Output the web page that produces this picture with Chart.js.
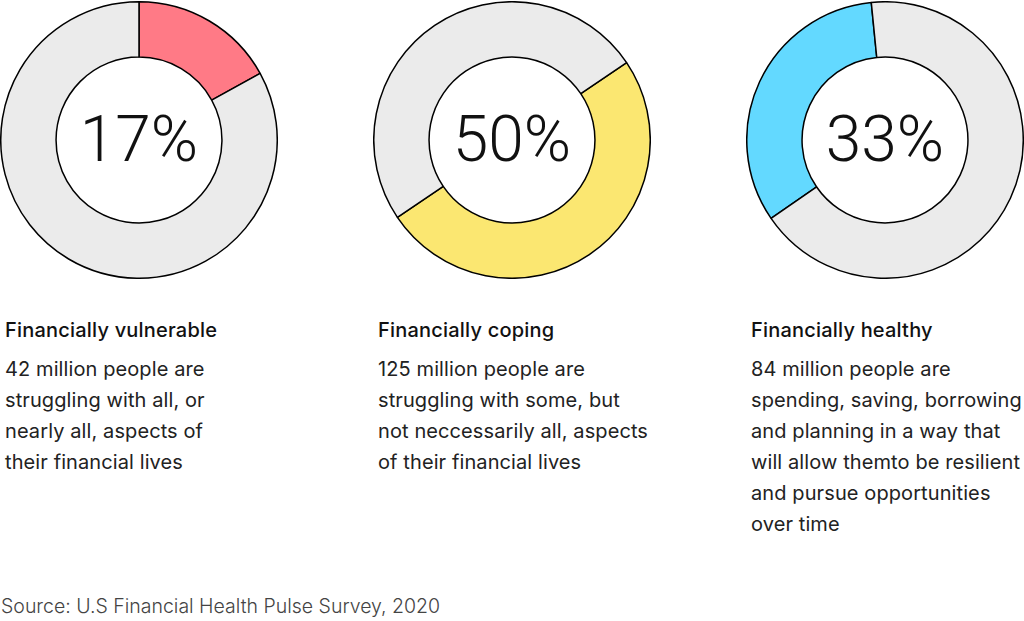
<!DOCTYPE html>
<html>
<head>
<meta charset="utf-8">
<script src="https://cdn.jsdelivr.net/npm/chart.js@4/dist/chart.umd.min.js"></script>
<style>
  html, body { margin: 0; padding: 0; background: #fff; }
  body { width: 1024px; height: 621px; position: relative; overflow: hidden; font-family: Inter, Roboto, "Noto Sans", sans-serif; }
  .donut { position: absolute; top: 1px; width: 278px; height: 278px; }
  .block { position: absolute; top: 316px; width: 300px; color: #1a1a1a; }
  .block h3 { margin: 0 0 10px 0; font-size: 20px; font-weight: 500; line-height: 28px; color: #111; letter-spacing: 0.2px; }
  .block p { margin: 0; font-size: 20px; font-weight: 400; line-height: 31px; color: #222; letter-spacing: 0.1px; }
  .source { position: absolute; left: 1px; top: 594px; font-size: 19.5px; font-weight: 300; color: #444; }
</style>
</head>
<body>
<canvas id="c0" class="donut" width="278" height="278" style="left:0px"></canvas>
<canvas id="c1" class="donut" width="278" height="278" style="left:373px"></canvas>
<canvas id="c2" class="donut" width="278" height="278" style="left:746px"></canvas>

<div class="block" style="left:5px"><h3 id="t0"></h3><p id="d0"></p></div>
<div class="block" style="left:378px"><h3 id="t1"></h3><p id="d1"></p></div>
<div class="block" style="left:751px"><h3 id="t2"></h3><p id="d2"></p></div>
<div class="source" id="source"></div>

<script>
// data
const groups = ['Financially vulnerable', 'Financially coping', 'Financially healthy'];
const shares = [17, 50, 33];
const descriptions = [
  ['42 million people are', 'struggling with all, or', 'nearly all, aspects of', 'their financial lives'],
  ['125 million people are', 'struggling with some, but', 'not neccessarily all, aspects', 'of their financial lives'],
  ['84 million people are', 'spending, saving, borrowing', 'and planning in a way that', 'will allow themto be resilient', 'and pursue opportunities', 'over time'],
];
const sourceText = 'Source: U.S Financial Health Pulse Survey, 2020';

const colors = ['#ff7a86', '#fbe771', '#63d9ff'];
const rest = '#ebebeb';
const rotations = [0, 56, -124.5];

const centerText = {
  id: 'centerText',
  afterDraw(chart, args, opts) {
    const { ctx } = chart;
    const meta = chart.getDatasetMeta(0);
    const { x, y } = meta.data[0];
    ctx.save();
    ctx.font = '300 64px Roboto';
    ctx.fillStyle = '#111';
    ctx.textAlign = 'center';
    ctx.textBaseline = 'middle';
    ctx.fillText(opts.text, x, y + 5);
    ctx.restore();
  },
};

shares.forEach((value, i) => {
  new Chart(document.getElementById('c' + i), {
    type: 'doughnut',
    data: {
      labels: [groups[i], 'Other'],
      datasets: [{
        data: [value, 100 - value],
        backgroundColor: [colors[i], rest],
        borderColor: '#000',
        borderWidth: 1.5,
      }],
    },
    options: {
      responsive: false,
      animation: false,
      cutout: '60%',
      rotation: rotations[i],
      plugins: {
        legend: { display: false },
        tooltip: { enabled: false },
        centerText: { text: value + '%' },
      },
    },
    plugins: [centerText],
  });

  document.getElementById('t' + i).textContent = groups[i];
  document.getElementById('d' + i).innerHTML = descriptions[i].join('<br>');
});

document.getElementById('source').textContent = sourceText;
</script>
</body>
</html>
